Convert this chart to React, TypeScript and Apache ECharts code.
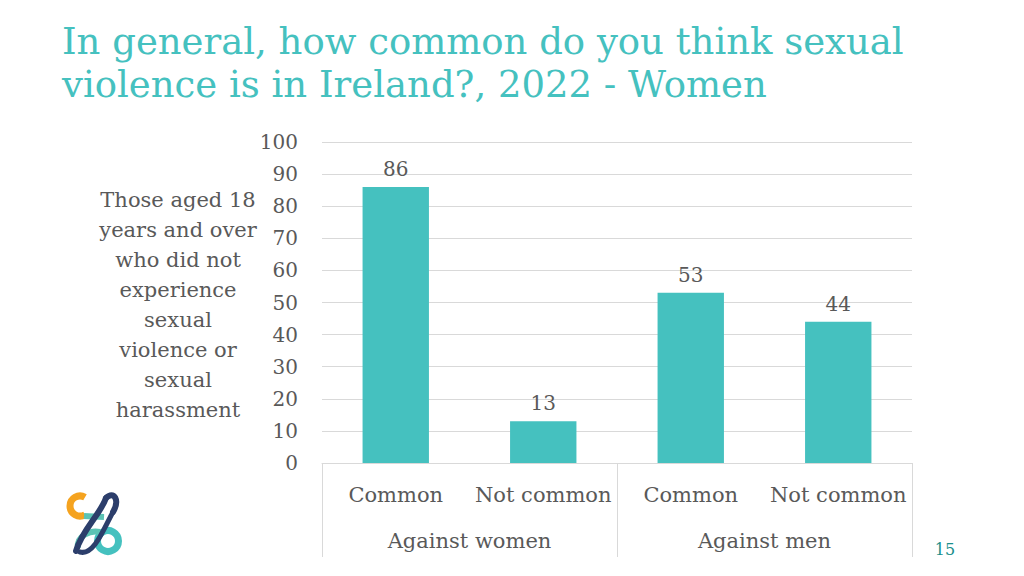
import React, { useEffect, useRef } from "react";
import * as echarts from "echarts";

const titleLines = ["In general, how common do you think sexual", "violence is in Ireland?, 2022 - Women"];
const categories = ["Common", "Not common", "Common", "Not common"];
const groups = ["Against women", "Against men"];
const values = [86, 13, 53, 44];
const yTicks = { min: 0, max: 100, interval: 10 };
const sideNote = "Those aged 18\nyears and over\nwho did not\nexperience\nsexual\nviolence or\nsexual\nharassment";
const pageNumber = "15";

const FONT = "'DejaVu Serif', serif";
const TEAL = "#45c1bf";
const GRAY = "#595959";
const GRID = "#d9d9d9";

export default function App() {
  const ref = useRef<HTMLDivElement>(null);
  useEffect(() => {
    if (!ref.current) return;
    const chart = echarts.init(ref.current, undefined, { renderer: "svg" });
    chart.setOption({
      animation: false,
      backgroundColor: "#ffffff",
      textStyle: { fontFamily: FONT },
      grid: { left: 322, right: 112, top: 142, bottom: 113, containLabel: false },
      xAxis: [
        {
          type: "category",
          data: categories,
          axisLine: { show: true, lineStyle: { color: GRID, width: 1 } },
          axisTick: { show: false },
          axisLabel: { color: GRAY, fontSize: 21, margin: 21, fontFamily: FONT, interval: 0 },
        },
        {
          type: "category",
          data: groups,
          position: "bottom",
          axisLine: { show: false },
          axisTick: { show: true, length: 94, lineStyle: { color: GRID, width: 1 } },
          axisLabel: { color: GRAY, fontSize: 21, margin: 67, fontFamily: FONT, interval: 0 },
        },
      ],
      yAxis: {
        type: "value",
        min: yTicks.min,
        max: yTicks.max,
        interval: yTicks.interval,
        axisLine: { show: false },
        axisTick: { show: false },
        splitLine: { lineStyle: { color: GRID, width: 1 } },
        axisLabel: { color: GRAY, fontSize: 20, margin: 24, fontFamily: FONT },
      },
      series: [
        {
          type: "bar",
          xAxisIndex: 0,
          data: values,
          barWidth: "45%",
          itemStyle: { color: TEAL },
          label: { show: true, position: "top", distance: 8, color: GRAY, fontSize: 20, fontFamily: FONT },
        },
      ],
      graphic: [
        {
          type: "text",
          x: 62,
          y: 41,
          style: {
            text: titleLines[0],
            fill: TEAL,
            font: `37px ${FONT}`,
            textVerticalAlign: "middle",
          },
        },
        {
          type: "text",
          x: 62,
          y: 84,
          style: {
            text: titleLines[1],
            fill: TEAL,
            font: `37px ${FONT}`,
            textVerticalAlign: "middle",
          },
        },
        {
          type: "text",
          x: 178,
          y: 185,
          style: {
            text: sideNote,
            fill: GRAY,
            font: `21px ${FONT}`,
            lineHeight: 30,
            textAlign: "center",
          },
        },
        {
          type: "text",
          x: 945,
          y: 549,
          style: {
            text: pageNumber,
            fill: "#1a8f8c",
            font: `16px ${FONT}`,
            textAlign: "center",
            textVerticalAlign: "middle",
          },
        },
        {
          type: "group",
          children: [
            {
              type: "arc",
              shape: { cx: 80, cy: 506, r: 10, startAngle: Math.PI / 3, endAngle: (Math.PI * 5) / 3, clockwise: true },
              style: { stroke: "#f5a31f", lineWidth: 7, fill: "none" },
            },
            {
              type: "line",
              shape: { x1: 84, y1: 516, x2: 104, y2: 517 },
              style: { stroke: "#5cc3b4", lineWidth: 6 },
            },
            {
              type: "circle",
              shape: { cx: 108, cy: 541, r: 10.5 },
              style: { stroke: TEAL, lineWidth: 7, fill: "none" },
            },
            {
              type: "bezierCurve",
              shape: { x1: 78, y1: 548, x2: 100, y2: 532, cpx1: 76, cpy1: 536, cpx2: 90, cpy2: 530 },
              style: { stroke: "#5cc3b4", lineWidth: 6, fill: "none" },
            },
            {
              type: "bezierCurve",
              shape: { x1: 106, y1: 498, x2: 76, y2: 551, cpx1: 100, cpy1: 515, cpx2: 82, cpy2: 530 },
              style: { stroke: "#2c3e6b", lineWidth: 6, fill: "none", lineCap: "round" },
            },
            {
              type: "bezierCurve",
              shape: { x1: 106, y1: 498, x2: 113, y2: 512, cpx1: 114, cpy1: 490, cpx2: 120, cpy2: 500 },
              style: { stroke: "#2c3e6b", lineWidth: 6, fill: "none", lineCap: "round" },
            },
            {
              type: "bezierCurve",
              shape: { x1: 113, y1: 512, x2: 80, y2: 552, cpx1: 104, cpy1: 528, cpx2: 94, cpy2: 556 },
              style: { stroke: "#2c3e6b", lineWidth: 5, fill: "none", lineCap: "round" },
            },
          ],
        },
      ],
    });
    return () => chart.dispose();
  }, []);
  return (
    <div
      ref={ref}
      style={{ position: "fixed", left: 0, top: 0, width: 1024, height: 576 }}
    />
  );
}
